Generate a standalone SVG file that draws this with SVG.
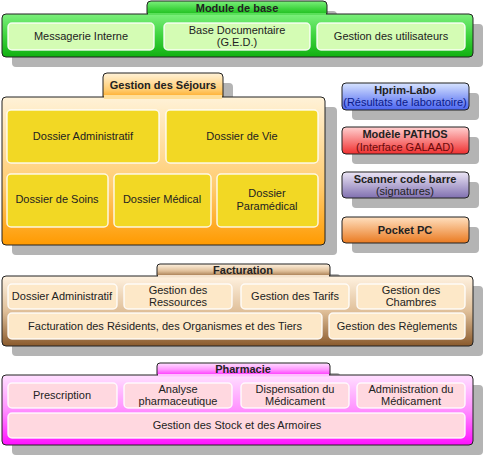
<svg xmlns="http://www.w3.org/2000/svg" width="485" height="458" viewBox="0 0 485 458">
<defs>
<linearGradient id="gGreen" x1="0" y1="0" x2="0" y2="1"><stop offset="0" stop-color="#7cf07c"/><stop offset="0.5" stop-color="#3ed43e"/><stop offset="1" stop-color="#10b010"/></linearGradient>
<linearGradient id="gOrange" x1="0" y1="0" x2="0" y2="1"><stop offset="0" stop-color="#fff2d8"/><stop offset="0.6" stop-color="#ffcc70"/><stop offset="1" stop-color="#ff9a00"/></linearGradient>
<linearGradient id="gBrown" x1="0" y1="0" x2="0" y2="1"><stop offset="0" stop-color="#fff2e0"/><stop offset="0.5" stop-color="#e0c09a"/><stop offset="1" stop-color="#8a5a2c"/></linearGradient>
<linearGradient id="gPink" x1="0" y1="0" x2="0" y2="1"><stop offset="0" stop-color="#ffe0ff"/><stop offset="0.5" stop-color="#ff90ff"/><stop offset="1" stop-color="#ff10ff"/></linearGradient>
<linearGradient id="gBlue" x1="0" y1="0" x2="0" y2="1"><stop offset="0" stop-color="#d8e4ff"/><stop offset="1" stop-color="#4a64f0"/></linearGradient>
<linearGradient id="gRed" x1="0" y1="0" x2="0" y2="1"><stop offset="0" stop-color="#ffd0d0"/><stop offset="1" stop-color="#f03030"/></linearGradient>
<linearGradient id="gViolet" x1="0" y1="0" x2="0" y2="1"><stop offset="0" stop-color="#ece6f6"/><stop offset="1" stop-color="#8070b0"/></linearGradient>
<linearGradient id="gPocket" x1="0" y1="0" x2="0" y2="1"><stop offset="0" stop-color="#ffe0c0"/><stop offset="1" stop-color="#ea7a20"/></linearGradient>
</defs>
<style>
.frame{stroke:#222;stroke-width:1}
.in{stroke:#ffffff;stroke-width:1.5;stroke-opacity:0.85}
.t{font-family:"Liberation Sans",Arial,sans-serif;font-size:11px;fill:#222;text-anchor:middle}
.b{font-weight:bold;font-size:11px}
.grn{fill:#d4fcb4}
.yel{fill:#f2d824}
.tan{fill:#fde8c8}
.pnk{fill:#ffd8e0}
.sd{fill:#b4b4b4}
</style>

<g id="module-de-base">
<path class="sd" d="M161,11 H333 Q337,11 337,15 V24 H479 Q483,24 483,28 V63 Q483,67 479,67 H16 Q12,67 12,63 V28 Q12,24 16,24 H157 V15 Q157,11 161,11 Z"/>
<rect class="frame" x="147" y="1" width="180" height="16" rx="4" fill="url(#gGreen)"/>
<rect class="frame" x="2" y="14" width="471" height="43" rx="4" fill="url(#gGreen)"/>
<rect fill="#5ae05a" x="148" y="13" width="178" height="2"/>
<text class="t b" x="237" y="12">Module de base</text>
<rect class="grn in" x="8" y="23" width="146" height="27" rx="4"/>
<text class="t" x="81" y="40">Messagerie Interne</text>
<rect class="grn in" x="164" y="23" width="146" height="27" rx="4"/>
<text class="t" x="237" y="34">Base Documentaire</text>
<text class="t" x="237" y="46">(G.E.D.)</text>
<rect class="grn in" x="317" y="23" width="148" height="27" rx="4"/>
<text class="t" x="391" y="40">Gestion des utilisateurs</text>
</g>

<g id="gestion-sejours">
<path class="sd" d="M117,83 H229 Q233,83 233,87 V107 H333 Q337,107 337,111 V251 Q337,255 333,255 H16 Q12,255 12,251 V111 Q12,107 16,107 H113 V87 Q113,83 117,83 Z"/>
<rect class="frame" x="103" y="73" width="120" height="28" rx="4" fill="url(#gOrange)"/>
<rect class="frame" x="2" y="97" width="323" height="148" rx="4" fill="url(#gOrange)"/>
<rect fill="#ffdf9a" x="104" y="95" width="118" height="4"/>
<text class="t b" x="163" y="89">Gestion des Séjours</text>
<rect class="yel in" x="7" y="110" width="152" height="53" rx="4"/>
<text class="t" x="83" y="140">Dossier Administratif</text>
<rect class="yel in" x="166" y="110" width="152" height="53" rx="4"/>
<text class="t" x="242" y="140">Dossier de Vie</text>
<rect class="yel in" x="7" y="174" width="101" height="53" rx="4"/>
<text class="t" x="57" y="203">Dossier de Soins</text>
<rect class="yel in" x="114" y="174" width="97" height="53" rx="4"/>
<text class="t" x="162" y="203">Dossier Médical</text>
<rect class="yel in" x="217" y="174" width="101" height="53" rx="4"/>
<text class="t" x="267" y="197">Dossier</text>
<text class="t" x="267" y="210">Paramédical</text>
</g>

<g id="hprim-labo">
<rect class="sd" x="352" y="93" width="127" height="27" rx="4"/>
<rect class="frame" x="342" y="83" width="127" height="27" rx="4" fill="url(#gBlue)"/>
<text class="t b" x="405" y="94">Hprim-Labo</text>
<text class="t" x="405" y="106" style="fill:#0a1a8a">(Résultats de laboratoire)</text>
</g>
<g id="modele-pathos">
<rect class="sd" x="352" y="137" width="127" height="27" rx="4"/>
<rect class="frame" x="342" y="127" width="127" height="27" rx="4" fill="url(#gRed)"/>
<text class="t b" x="405" y="138">Modèle PATHOS</text>
<text class="t" x="405" y="151" style="fill:#6a0a0a">(Interface GALAAD)</text>
</g>
<g id="scanner">
<rect class="sd" x="352" y="182" width="127" height="26" rx="4"/>
<rect class="frame" x="342" y="172" width="127" height="26" rx="4" fill="url(#gViolet)"/>
<text class="t b" x="405" y="183">Scanner code barre</text>
<text class="t" x="405" y="195">(signatures)</text>
</g>
<g id="pocket-pc">
<rect class="sd" x="352" y="227" width="127" height="26" rx="4"/>
<rect class="frame" x="342" y="217" width="127" height="26" rx="4" fill="url(#gPocket)"/>
<text class="t b" x="405" y="234">Pocket PC</text>
</g>

<g id="facturation">
<path class="sd" d="M170,274 H337 Q340,274 340,277 V286 H479 Q483,286 483,290 V352 Q483,356 479,356 H16 Q12,356 12,352 V290 Q12,286 16,286 H167 V277 Q167,274 170,274 Z"/>
<rect class="frame" x="157" y="264" width="173" height="14" rx="3" fill="url(#gBrown)"/>
<rect class="frame" x="2" y="276" width="471" height="70" rx="4" fill="url(#gBrown)"/>
<rect fill="#f4e2cc" x="158" y="275" width="171" height="2.5"/>
<text class="t b" x="243" y="274">Facturation</text>
<rect class="tan in" x="8" y="284" width="109" height="25" rx="4"/>
<text class="t" x="62" y="300">Dossier Administratif</text>
<rect class="tan in" x="124" y="284" width="108" height="25" rx="4"/>
<text class="t" x="178" y="294">Gestion des</text>
<text class="t" x="178" y="306">Ressources</text>
<rect class="tan in" x="241" y="284" width="108" height="25" rx="4"/>
<text class="t" x="295" y="300">Gestion des Tarifs</text>
<rect class="tan in" x="357" y="284" width="108" height="25" rx="4"/>
<text class="t" x="411" y="294">Gestion des</text>
<text class="t" x="411" y="306">Chambres</text>
<rect class="tan in" x="8" y="313" width="314" height="26" rx="4"/>
<text class="t" x="165" y="330">Facturation des Résidents, des Organismes et des Tiers</text>
<rect class="tan in" x="329" y="313" width="136" height="26" rx="4"/>
<text class="t" x="397" y="330">Gestion des Règlements</text>
</g>

<g id="pharmacie">
<path class="sd" d="M170,373 H337 Q340,373 340,376 V385 H479 Q483,385 483,389 V451 Q483,455 479,455 H16 Q12,455 12,451 V389 Q12,385 16,385 H167 V376 Q167,373 170,373 Z"/>
<rect class="frame" x="157" y="363" width="173" height="14" rx="3" fill="url(#gPink)"/>
<rect class="frame" x="2" y="375" width="471" height="70" rx="4" fill="url(#gPink)"/>
<rect fill="#ffc0ff" x="158" y="374" width="171" height="2.5"/>
<text class="t b" x="243" y="373">Pharmacie</text>
<rect class="pnk in" x="8" y="383" width="109" height="25" rx="4"/>
<text class="t" x="62" y="399">Prescription</text>
<rect class="pnk in" x="124" y="383" width="108" height="25" rx="4"/>
<text class="t" x="178" y="393">Analyse</text>
<text class="t" x="178" y="405">pharmaceutique</text>
<rect class="pnk in" x="241" y="383" width="108" height="25" rx="4"/>
<text class="t" x="295" y="393">Dispensation du</text>
<text class="t" x="295" y="405">Médicament</text>
<rect class="pnk in" x="357" y="383" width="108" height="25" rx="4"/>
<text class="t" x="411" y="393">Administration du</text>
<text class="t" x="411" y="405">Médicament</text>
<rect class="pnk in" x="8" y="413" width="457" height="25" rx="4"/>
<text class="t" x="237" y="429">Gestion des Stock et des Armoires</text>
</g>

<g id="connectors"/>
</svg>
